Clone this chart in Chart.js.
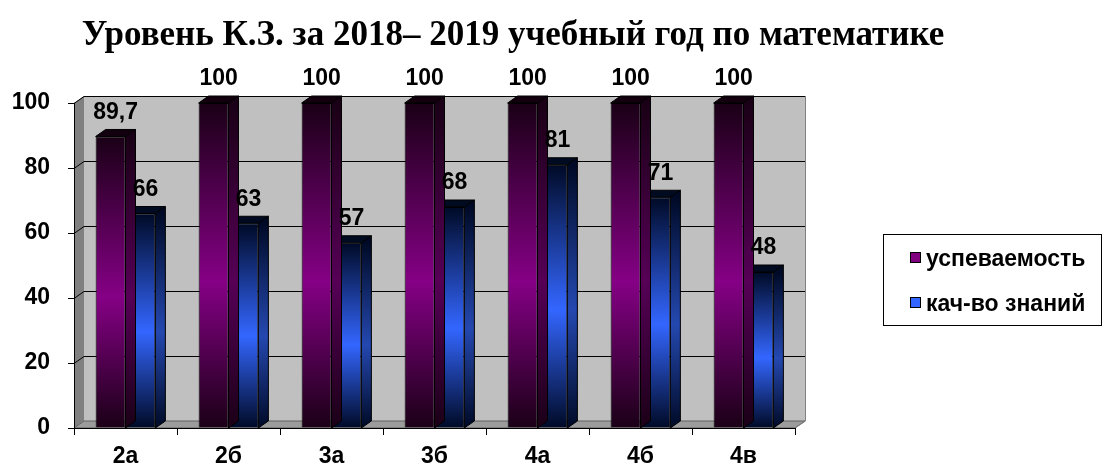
<!DOCTYPE html>
<html>
<head>
<meta charset="utf-8">
<script src="https://cdn.jsdelivr.net/npm/chart.js@4.4.1/dist/chart.umd.min.js"></script>
<style>
  html, body { margin: 0; padding: 0; background: #fff; }
  #wrap { width: 1105px; height: 468px; }
</style>
</head>
<body>
<div id="wrap"><canvas id="myChart" width="1105" height="468"></canvas></div>
<script>
const chartTitle = 'Уровень К.З. за 2018– 2019 учебный год по математике';
const classes = ['2а', '2б', '3а', '3б', '4а', '4б', '4в'];
const progress = [89.7, 100, 100, 100, 100, 100, 100];
const quality = [66, 63, 57, 68, 81, 71, 48];
const seriesNames = ['успеваемость', 'кач-во знаний'];
const yMin = 0, yMax = 100, yStep = 20;

// depth of the fake 3d
const DX = 10, DY = 7;
const FONT = '"Liberation Sans", Arial, sans-serif';

const palettes = [
  { dark: '#1a0016', mid: '#850085', side: '#560056', top: '#12000e', key: '#800080' },
  { dark: '#000a26', mid: '#3366ff', side: '#2448b0', top: '#000a20', key: '#3366ff' }
];

function barGradient(ctx, i) {
  const chart = ctx.chart;
  const y = chart.scales.y;
  const p = palettes[i];
  if (!chart.chartArea || !y || ctx.raw === undefined) return p.mid;
  const top = y.getPixelForValue(ctx.raw);
  const base = y.getPixelForValue(0);
  const g = chart.ctx.createLinearGradient(0, top, 0, base);
  g.addColorStop(0, p.dark);
  g.addColorStop(0.55, p.mid);
  g.addColorStop(1, p.dark);
  return g;
}

const scene = {
  id: 'scene',
  beforeDraw(chart) {
    const { ctx, chartArea: a, scales } = chart;
    ctx.save();
    // back wall
    ctx.fillStyle = '#c0c0c0';
    ctx.fillRect(a.left + DX, a.top - DY, a.right - a.left, a.bottom - a.top);
    // left wall
    ctx.fillStyle = '#808080';
    ctx.beginPath();
    ctx.moveTo(a.left, a.top);
    ctx.lineTo(a.left + DX, a.top - DY);
    ctx.lineTo(a.left + DX, a.bottom - DY);
    ctx.lineTo(a.left, a.bottom);
    ctx.closePath();
    ctx.fill();
    // floor
    ctx.fillStyle = '#9c9c9c';
    ctx.beginPath();
    ctx.moveTo(a.left, a.bottom);
    ctx.lineTo(a.left + DX, a.bottom - DY);
    ctx.lineTo(a.right + DX, a.bottom - DY);
    ctx.lineTo(a.right, a.bottom);
    ctx.closePath();
    ctx.fill();
    ctx.strokeStyle = '#606060';
    ctx.lineWidth = 1;
    ctx.stroke();
    // grid lines on the walls
    ctx.strokeStyle = '#000';
    scales.y.ticks.forEach(t => {
      if (t.value === yMin) return;
      const py = Math.round(scales.y.getPixelForValue(t.value)) + 0.5;
      ctx.beginPath();
      ctx.moveTo(a.left, py);
      ctx.lineTo(a.left + DX, py - DY);
      ctx.lineTo(a.right + DX, py - DY);
      ctx.stroke();
    });
    ctx.strokeStyle = '#808080';
    ctx.beginPath();
    ctx.moveTo(a.right + DX + 0.5, a.top - DY);
    ctx.lineTo(a.right + DX + 0.5, a.bottom - DY);
    ctx.lineTo(a.right, a.bottom);
    ctx.stroke();
    ctx.restore();
  },
  afterDatasetDraw(chart, args) {
    const { ctx } = chart;
    const p = palettes[args.index];
    const base = chart.scales.y.getPixelForValue(0);
    ctx.save();
    ctx.strokeStyle = '#000';
    ctx.lineWidth = 1;
    args.meta.data.forEach(bar => {
      const x0 = bar.x - bar.width / 2, x1 = bar.x + bar.width / 2, top = bar.y;
      const g = ctx.createLinearGradient(0, top, 0, base);
      g.addColorStop(0, p.dark);
      g.addColorStop(0.55, p.side);
      g.addColorStop(1, p.dark);
      ctx.fillStyle = g;
      ctx.beginPath();
      ctx.moveTo(x1, top);
      ctx.lineTo(x1 + DX, top - DY);
      ctx.lineTo(x1 + DX, base - DY);
      ctx.lineTo(x1, base);
      ctx.closePath();
      ctx.fill();
      ctx.stroke();
      ctx.fillStyle = p.top;
      ctx.beginPath();
      ctx.moveTo(x0, top);
      ctx.lineTo(x0 + DX, top - DY);
      ctx.lineTo(x1 + DX, top - DY);
      ctx.lineTo(x1, top);
      ctx.closePath();
      ctx.fill();
      ctx.stroke();
    });
    ctx.restore();
  },
  afterDraw(chart) {
    const { ctx } = chart;
    ctx.save();
    // value labels
    ctx.fillStyle = '#000';
    ctx.font = 'bold 23px ' + FONT;
    ctx.textAlign = 'center';
    ctx.textBaseline = 'middle';
    chart.data.datasets.forEach((ds, i) => {
      chart.getDatasetMeta(i).data.forEach((bar, j) => {
        const txt = String(ds.data[j]).replace('.', ',');
        ctx.fillText(txt, bar.x + 5, bar.y - 24);
      });
    });
    // title
    ctx.font = 'bold 35px "Liberation Serif", "Times New Roman", serif';
    ctx.textBaseline = 'alphabetic';
    ctx.fillText(chartTitle, 513, 45);
    // legend
    ctx.strokeStyle = '#000';
    ctx.lineWidth = 1;
    ctx.strokeRect(883.5, 234.5, 218, 91);
    ctx.font = 'bold 23px ' + FONT;
    ctx.textAlign = 'left';
    ctx.textBaseline = 'middle';
    seriesNames.forEach((name, i) => {
      const cy = 259 + i * 45;
      ctx.fillStyle = palettes[i].key;
      ctx.fillRect(910, cy - 7, 10, 10);
      ctx.strokeRect(910.5, cy - 6.5, 10, 10);
      ctx.fillStyle = '#000';
      ctx.fillText(name, 926, cy + 1);
    });
    ctx.restore();
  }
};

const myChart = new Chart(document.getElementById('myChart'), {
  type: 'bar',
  data: {
    labels: classes,
    datasets: [
      {
        label: seriesNames[0],
        data: progress,
        backgroundColor: ctx => barGradient(ctx, 0),
        borderColor: '#000',
        borderWidth: 1
      },
      {
        label: seriesNames[1],
        data: quality,
        backgroundColor: ctx => barGradient(ctx, 1),
        borderColor: '#000',
        borderWidth: 1
      }
    ]
  },
  plugins: [scene],
  options: {
    responsive: false,
    animation: false,
    devicePixelRatio: 1,
    categoryPercentage: 0.58,
    barPercentage: 1,
    layout: { padding: { top: 103, right: 310, left: 0, bottom: 0 } },
    plugins: {
      legend: { display: false },
      title: { display: false },
      tooltip: { enabled: false }
    },
    scales: {
      x: {
        afterFit: s => { s.height = 40; },
        grid: { offset: true, drawOnChartArea: false, drawTicks: true, tickLength: 7, color: '#000' },
        border: { display: true, color: '#000' },
        ticks: { color: '#000', padding: 8, font: { family: FONT, size: 23, weight: 'bold' } }
      },
      y: {
        min: yMin,
        max: yMax,
        afterFit: s => { s.width = 74; },
        grid: { drawOnChartArea: false, drawTicks: true, tickLength: 6, color: '#000' },
        border: { display: true, color: '#000' },
        ticks: { stepSize: yStep, color: '#000', padding: 18, font: { family: FONT, size: 23, weight: 'bold' } }
      }
    }
  }
});
</script>
</body>
</html>
